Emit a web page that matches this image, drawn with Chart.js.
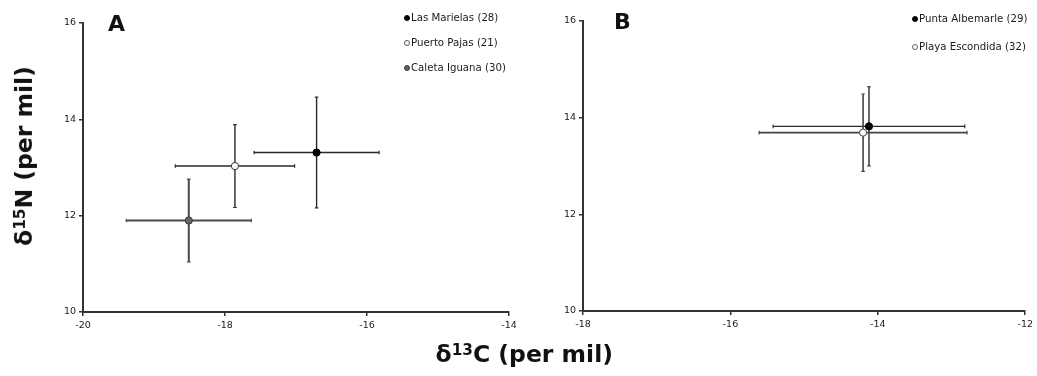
<!DOCTYPE html>
<html><head><meta charset="utf-8">
<script src="https://cdn.jsdelivr.net/npm/chart.js@4/dist/chart.umd.min.js"></script>
<style>
html,body{margin:0;padding:0;background:#fff;}
#wrap{position:relative;width:1037px;height:376px;overflow:hidden;font-family:"DejaVu Sans",Verdana,sans-serif;}
canvas{position:absolute;}
.panel{position:absolute;font-weight:bold;font-size:22px;color:#111;}
.leg{position:absolute;font-size:10.2px;color:#1a1a1a;}
.leg div{position:absolute;white-space:nowrap;}
.leg span{display:inline-block;width:6px;height:6px;border-radius:50%;box-sizing:border-box;margin-right:1px;vertical-align:0px;}
.ytitle{position:absolute;font-weight:bold;font-size:23.5px;color:#111;transform:rotate(-90deg);transform-origin:center;white-space:nowrap;}
.xtitle{position:absolute;font-weight:bold;font-size:23.5px;color:#111;white-space:nowrap;}
sup{font-size:65%;vertical-align:0.45em;line-height:0;}
</style></head>
<body>
<div id="wrap">
  <canvas id="cA" width="525" height="345" style="left:0;top:0;width:525px;height:345px"></canvas>
  <canvas id="cB" width="517" height="345" style="left:520px;top:0;width:517px;height:345px"></canvas>
  <div class="panel" style="left:108px;top:11px">A</div>
  <div class="panel" style="left:614px;top:9px">B</div>
  <div id="legA" class="leg" style="left:404px;top:12px"></div>
  <div id="legB" class="leg" style="left:912px;top:13px"></div>
  <div class="ytitle" id="yt">δ<sup>15</sup>N (per mil)</div>
  <div class="xtitle" id="xt">δ<sup>13</sup>C (per mil)</div>
</div>
<script>
// ---- Data ----
const seriesA = ['Las Marielas (28)', 'Puerto Pajas (21)', 'Caleta Iguana (30)'];
const d13C_A = [-16.71, -17.86, -18.51];
const d15N_A = [13.31, 13.03, 11.90];
const d13C_errA = [0.88, 0.84, 0.88];
const d15N_errA = [1.15, 0.86, 0.86];

const seriesB = ['Punta Albemarle (29)', 'Playa Escondida (32)'];
const d13C_B = [-14.12, -14.20];
const d15N_B = [13.82, 13.69];
const d13C_errB = [1.30, 1.41];
const d15N_errB = [0.82, 0.80];

const xTicksA = [-20, -18, -16, -14];
const xTicksB = [-18, -16, -14, -12];
const yTicks = [10, 12, 14, 16];

// styles
const fillA = ['#000000', '#ffffff', '#666666'];
const edgeA = ['#000000', '#333333', '#333333'];
const barA = ['#2a2a2a', '#2a2a2a', '#4a4a4a'];
const barWA = [1.4, 1.4, 2];
const fillB = ['#000000', '#ffffff'];
const edgeB = ['#000000', '#444444'];
const barB = ['#2a2a2a', '#444444'];
const barWB = [1.4, 1.6];

const errorBars = {
  id: 'errorBars',
  beforeDatasetsDraw(chart) {
    const ctx = chart.ctx, xs = chart.scales.x, ys = chart.scales.y;
    chart.data.datasets.forEach((ds) => {
      const p = ds.data[0];
      const ex = ds.errX, ey = ds.errY;
      const cx = xs.getPixelForValue(p.x), cy = ys.getPixelForValue(p.y);
      const x1 = xs.getPixelForValue(p.x - ex), x2 = xs.getPixelForValue(p.x + ex);
      const y1 = ys.getPixelForValue(p.y + ey), y2 = ys.getPixelForValue(p.y - ey);
      ctx.save();
      ctx.strokeStyle = ds.barColor; ctx.lineWidth = ds.barWidth;
      ctx.beginPath();
      ctx.moveTo(x1, cy); ctx.lineTo(x2, cy);
      ctx.moveTo(cx, y1); ctx.lineTo(cx, y2);
      ctx.stroke();
      ctx.lineWidth = 1.2;
      const c = 1.8;
      ctx.beginPath();
      ctx.moveTo(x1, cy - c); ctx.lineTo(x1, cy + c);
      ctx.moveTo(x2, cy - c); ctx.lineTo(x2, cy + c);
      ctx.moveTo(cx - c, y1); ctx.lineTo(cx + c, y1);
      ctx.moveTo(cx - c, y2); ctx.lineTo(cx + c, y2);
      ctx.stroke();
      ctx.restore();
    });
  }
};

function makeChart(id, names, xs, ys, ex, ey, fills, edges, bars, barWs, xTicks, pad, yW) {
  const datasets = names.map((n, i) => ({
    label: n,
    data: [{x: xs[i], y: ys[i]}],
    errX: ex[i], errY: ey[i],
    barColor: bars[i], barWidth: barWs[i],
    backgroundColor: fills[i], borderColor: edges[i], borderWidth: 1,
    pointRadius: 3.6, pointHoverRadius: 3.6
  }));
  const tickFont = {family: '"DejaVu Sans", Verdana, sans-serif', size: 9.5};
  return new Chart(document.getElementById(id), {
    type: 'scatter',
    data: {datasets},
    plugins: [errorBars],
    options: {
      responsive: false, animation: false,
      layout: {padding: pad},
      plugins: {legend: {display: false}, tooltip: {enabled: false}},
      scales: {
        x: {
          type: 'linear', min: xTicks[0], max: xTicks[xTicks.length - 1],
          afterBuildTicks: s => { s.ticks = xTicks.map(v => ({value: v})); },
          ticks: {font: tickFont, color: '#1a1a1a', padding: 4, maxRotation: 0, autoSkip: false},
          grid: {drawOnChartArea: false, drawTicks: true, tickLength: 4, color: '#333', lineWidth: 1.5},
          border: {color: '#333', width: 2},
          afterFit: s => { s.height = 30; }
        },
        y: {
          type: 'linear', min: yTicks[0], max: yTicks[yTicks.length - 1],
          afterBuildTicks: s => { s.ticks = yTicks.map(v => ({value: v})); },
          ticks: {font: tickFont, color: '#1a1a1a', padding: 3},
          grid: {drawOnChartArea: false, drawTicks: true, tickLength: 4, color: '#333', lineWidth: 1.5},
          border: {color: '#333', width: 2},
          afterFit: s => { s.width = yW; }
        }
      }
    }
  });
}

makeChart('cA', seriesA, d13C_A, d15N_A, d13C_errA, d15N_errA, fillA, edgeA, barA, barWA, xTicksA,
  {left: 0, top: 23, right: 16, bottom: 3}, 83);
makeChart('cB', seriesB, d13C_B, d15N_B, d13C_errB, d15N_errB, fillB, edgeB, barB, barWB, xTicksB,
  {left: 0, top: 21, right: 11, bottom: 4}, 63);

function buildLegend(el, names, fills, edges, gap) {
  names.forEach((n, i) => {
    const d = document.createElement('div');
    d.style.top = (i * gap) + 'px';
    d.style.left = '0px';
    d.innerHTML = '<span style="background:' + fills[i] + ';border:1px solid ' + edges[i] + '"></span>' + n;
    el.appendChild(d);
  });
}
buildLegend(document.getElementById('legA'), seriesA, fillA, ['#000', '#555', '#333'], 25);
buildLegend(document.getElementById('legB'), seriesB, fillB, ['#000', '#666'], 28);

// axis titles placement
const yt = document.getElementById('yt');
yt.style.left = (24 - yt.offsetWidth / 2) + 'px';
yt.style.top = (156 - yt.offsetHeight / 2) + 'px';
const xt = document.getElementById('xt');
xt.style.left = (524 - xt.offsetWidth / 2) + 'px';
xt.style.top = (354 - xt.offsetHeight / 2) + 'px';
</script>
</body></html>
